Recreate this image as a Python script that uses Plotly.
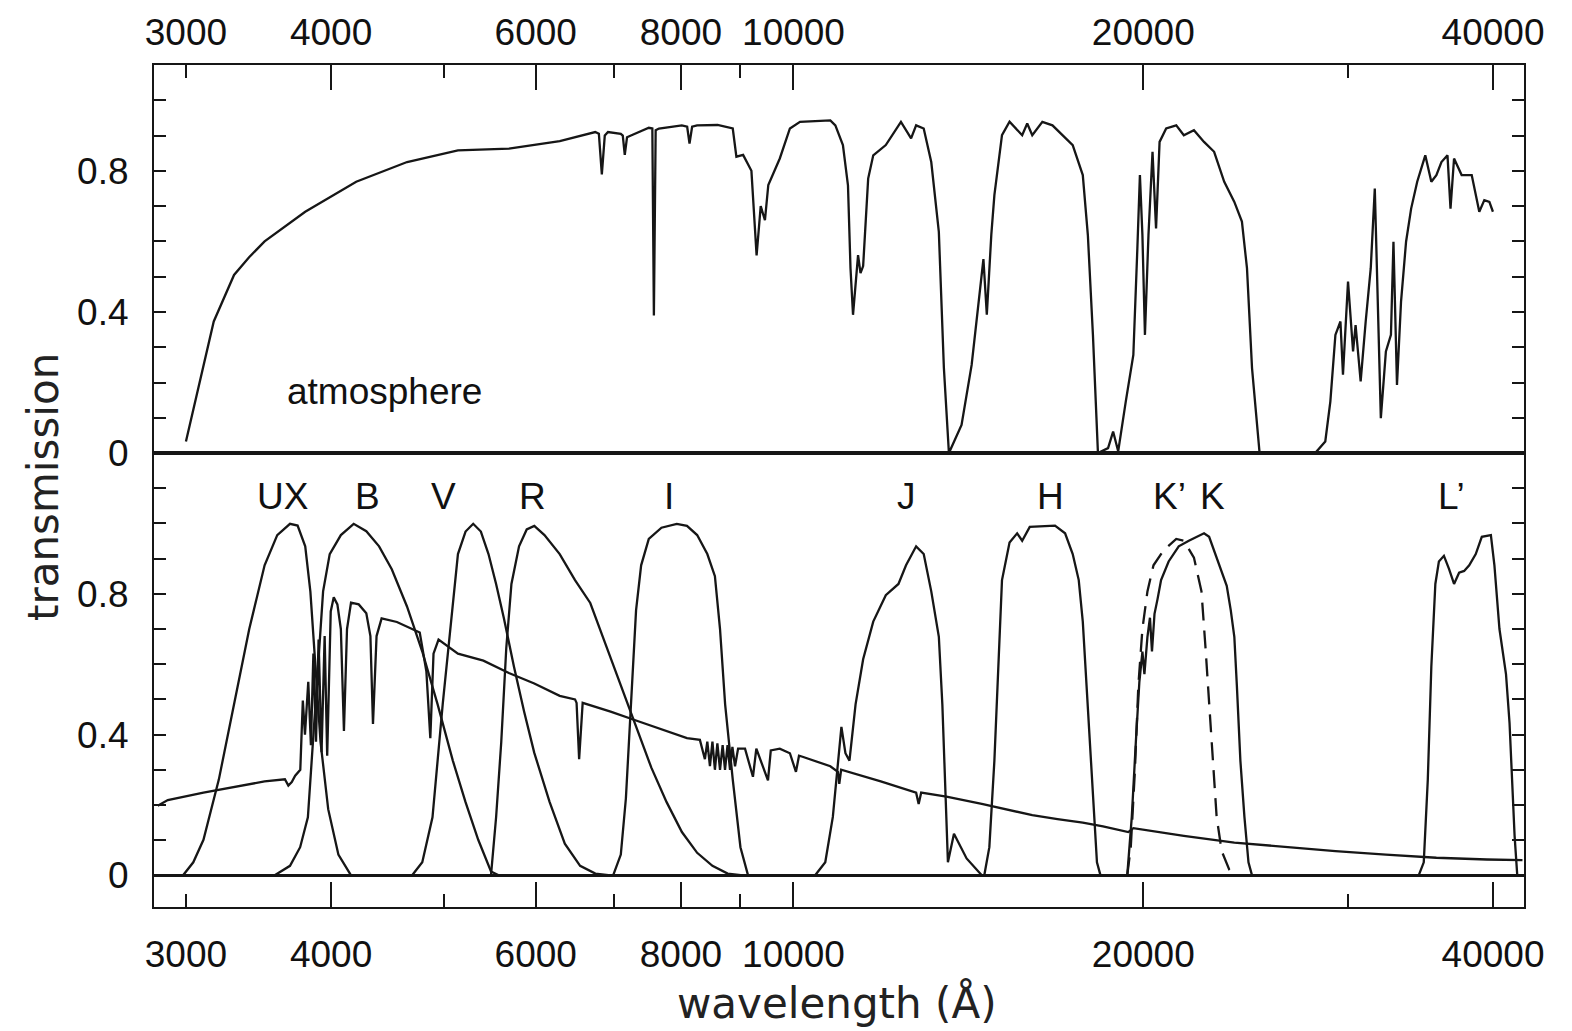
import math
import plotly.graph_objects as go

# ---------------- data (wavelength in Angstrom, transmission) ----------------
atm_wl = [3000, 3170, 3300, 3400, 3506, 3800, 4204, 4650, 5143, 5690, 6293, 6751, 6800, 6840, 6880,
          6924, 7102, 7130, 7158, 7190, 7246, 7508, 7560, 7583, 7610, 7660, 8015, 8100, 8138,
          8180, 8261, 8603, 8866, 8930, 9050, 9200, 9295, 9371, 9450, 9513, 9732, 9929, 10130,
          10757, 10865, 11029, 11140, 11196, 11252, 11309, 11365, 11420, 11480, 11595, 11712,
          12007, 12373, 12624, 12751, 12944, 13139, 13338, 13472, 13607, 13744, 13952, 14234,
          14522, 14570, 14668, 14800, 14890, 15116, 15344, 15733, 15891, 16051, 16375, 16706,
          17390, 17741, 17920, 18101, 18282, 18652, 18840, 19030, 19318, 19610, 19767, 19867,
          19966, 20066, 20207, 20370, 20513, 20657, 20928, 21351, 21674, 22112, 22559, 23015,
          23481, 23955, 24318, 24563, 24810, 25185, 28117, 28686, 28975, 29267, 29561, 29710,
          30009, 30310, 30462, 30769, 31078, 31391, 31643, 31865, 32025, 32347, 32672, 32836,
          33066, 33332, 33667, 34007, 34418, 34973, 35395, 35751, 36111, 36547, 36766, 37025,
          37585, 38344, 38729, 38923, 39314, 39711, 39990]
atm_t = [0.033, 0.373, 0.505, 0.555, 0.600, 0.684, 0.769, 0.825, 0.858, 0.863, 0.884, 0.910, 0.905, 0.790, 0.900,
         0.910, 0.905, 0.900, 0.845, 0.895, 0.900, 0.922, 0.920, 0.390, 0.915, 0.920, 0.929, 0.925, 0.877,
         0.925, 0.929, 0.930, 0.920, 0.840, 0.845, 0.800, 0.560, 0.700, 0.660, 0.760, 0.835, 0.920, 0.939,
         0.943, 0.929, 0.873, 0.759, 0.524, 0.392, 0.467, 0.561, 0.510, 0.530, 0.778, 0.844,
         0.873, 0.939, 0.892, 0.929, 0.920, 0.825, 0.627, 0.241, 0.000, 0.033, 0.080, 0.250,
         0.500, 0.550, 0.392, 0.620, 0.731, 0.901, 0.939, 0.901, 0.934, 0.901, 0.939, 0.929,
         0.873, 0.788, 0.618, 0.335, 0.000, 0.014, 0.061, 0.005, 0.146, 0.278, 0.580, 0.788,
         0.618, 0.335, 0.618, 0.854, 0.637, 0.882, 0.920, 0.929, 0.901, 0.915, 0.882, 0.854,
         0.769, 0.712, 0.656, 0.524, 0.241, 0.000, 0.000, 0.033, 0.146, 0.335, 0.373, 0.222,
         0.486, 0.288, 0.363, 0.203, 0.373, 0.524, 0.750, 0.335, 0.099, 0.288, 0.335, 0.599,
         0.193, 0.429, 0.599, 0.693, 0.769, 0.844, 0.769, 0.788, 0.825, 0.844, 0.693, 0.835,
         0.788, 0.788, 0.722, 0.684, 0.717, 0.712, 0.684]

ux_wl = [2939, 2983, 3044, 3106, 3202, 3300, 3401, 3506, 3595, 3687, 3743, 3800, 3839, 3878, 3917, 3977, 4058, 4161]
ux_t = [0.0, 0.0, 0.037, 0.101, 0.272, 0.486, 0.700, 0.881, 0.967, 0.999, 0.994, 0.935, 0.806, 0.593, 0.379, 0.188, 0.059, 0.0]

b_wl = [3577, 3687, 3762, 3820, 3878, 3937, 3989, 4078, 4183, 4289, 4399, 4511, 4649, 4792, 4940, 5091, 5221, 5354, 5491, 5575]
b_t = [0.0, 0.027, 0.080, 0.165, 0.486, 0.807, 0.913, 0.967, 0.999, 0.978, 0.935, 0.870, 0.764, 0.636, 0.486, 0.326, 0.208, 0.101, 0.011, 0.0]

v_wl = [4697, 4792, 4890, 4940, 4990, 5066, 5143, 5221, 5301, 5382, 5464, 5547, 5632, 5747, 5864, 5983, 6167, 6356, 6552, 6753, 6960]
v_t = [0.0, 0.037, 0.165, 0.326, 0.486, 0.700, 0.913, 0.977, 0.999, 0.977, 0.913, 0.828, 0.732, 0.593, 0.465, 0.348, 0.209, 0.090, 0.027, 0.005, 0.0]

r_wl = [5491, 5547, 5604, 5660, 5718, 5805, 5894, 5983, 6105, 6292, 6486, 6685, 6890, 7102, 7320, 7545, 7777, 8016, 8262, 8516, 8777, 9047]
r_t = [0.0, 0.165, 0.379, 0.646, 0.828, 0.935, 0.983, 0.993, 0.967, 0.913, 0.839, 0.774, 0.657, 0.540, 0.423, 0.306, 0.208, 0.123, 0.064, 0.027, 0.005, 0.0]

i_wl = [6995, 7102, 7174, 7247, 7320, 7394, 7507, 7698, 7935, 8097, 8262, 8430, 8558, 8645, 8733, 8866, 9002, 9139]
i_t = [0.0, 0.059, 0.219, 0.486, 0.753, 0.881, 0.956, 0.988, 0.999, 0.993, 0.967, 0.913, 0.850, 0.700, 0.486, 0.272, 0.080, 0.0]

j_wl = [10439, 10650, 10811, 10919, 10996, 11084, 11173, 11309, 11480, 11712, 12007, 12312, 12498, 12751, 12944,
        13139, 13338, 13431, 13499, 13580, 13744, 14092, 14522]
j_t = [0.0, 0.037, 0.166, 0.326, 0.422, 0.347, 0.326, 0.486, 0.614, 0.721, 0.796, 0.828, 0.881, 0.935, 0.913,
       0.807, 0.678, 0.486, 0.272, 0.037, 0.118, 0.048, 0.0]

h_wl = [14595, 14742, 14890, 15010, 15116, 15344, 15577, 15733, 15971, 16790, 17129, 17390, 17599, 17741, 17920, 18101, 18246, 18375]
h_t = [0.0, 0.080, 0.326, 0.593, 0.839, 0.946, 0.972, 0.951, 0.990, 0.994, 0.972, 0.913, 0.839, 0.721, 0.486, 0.219, 0.037, 0.0]

kp_wl = [19375, 19511, 19668, 19806, 19966, 20166, 20409, 20823, 21351, 21674, 22112, 22445, 22626, 22788, 22945, 23130, 23362, 23716, 23955]
kp_t = [0.0, 0.080, 0.294, 0.540, 0.700, 0.807, 0.881, 0.924, 0.956, 0.951, 0.903, 0.807, 0.646, 0.486, 0.326, 0.166, 0.069, 0.016, 0.0]

k_wl = [19375, 19550, 19708, 19846, 19966, 20045, 20166, 20267, 20348, 20450, 20573, 20718, 21031, 21456, 21890,
        22222, 22559, 22788, 23060, 23362, 23597, 23787, 23955, 24075, 24244, 24439, 24636, 24810]
k_t = [0.0, 0.166, 0.379, 0.550, 0.636, 0.572, 0.678, 0.732, 0.636, 0.743, 0.785, 0.839, 0.892, 0.935, 0.951,
       0.962, 0.972, 0.962, 0.913, 0.860, 0.823, 0.753, 0.678, 0.540, 0.326, 0.166, 0.037, 0.0]

lp_wl = [34521, 34868, 35148, 35395, 35678, 35929, 36290, 36656, 37025, 37397, 37773, 38153, 38652, 39118, 39828,
         40109, 40511, 41040, 41329, 41536, 41745, 41966]
lp_t = [0.0, 0.037, 0.272, 0.593, 0.828, 0.892, 0.908, 0.871, 0.828, 0.860, 0.865, 0.881, 0.913, 0.962, 0.967,
        0.881, 0.700, 0.572, 0.433, 0.272, 0.112, 0.0]

star_wl = [2837, 2894, 3106, 3300, 3506, 3650, 3675, 3700, 3725, 3763, 3782, 3798, 3823, 3843, 3862, 3882, 3902,
           3925, 3949, 3969, 3997, 4021, 4050, 4078, 4103, 4128, 4161, 4225, 4289, 4324, 4346, 4377, 4421, 4557,
           4697, 4768, 4831, 4869, 4900, 4949, 5143, 5409, 5689, 5983, 6292, 6486, 6506, 6539, 6585, 6960, 7320,
           7698, 8097, 8307, 8390, 8430, 8474, 8516, 8558, 8600, 8645, 8690, 8731, 8775, 8818, 8860, 8906, 8960,
           9084, 9228, 9290, 9507, 9560, 9732, 9929, 10049, 10110, 10181, 10757, 10919, 10950, 10990, 11309,
           11888, 12751, 12815, 12879, 13540, 14522, 15268, 15733, 16051, 16874, 17741, 18466, 19414, 19610,
           21674, 23955, 26476, 29267, 32347, 35751, 39512, 42400]
star_t = [0.198, 0.214, 0.235, 0.251, 0.267, 0.273, 0.255, 0.265, 0.283, 0.300, 0.497, 0.400, 0.550, 0.370, 0.630, 0.380, 0.670,
          0.350, 0.680, 0.340, 0.750, 0.790, 0.770, 0.700, 0.410, 0.700, 0.775, 0.770, 0.745, 0.680, 0.430, 0.680, 0.730, 0.720,
          0.700, 0.690, 0.580, 0.390, 0.630, 0.670, 0.630, 0.610, 0.575, 0.545, 0.510, 0.500, 0.490, 0.330, 0.490, 0.465, 0.440,
          0.415, 0.390, 0.385, 0.330, 0.380, 0.310, 0.380, 0.300, 0.375, 0.300, 0.370, 0.300, 0.370, 0.300, 0.365, 0.310, 0.360,
          0.360, 0.280, 0.360, 0.270, 0.355, 0.360, 0.347, 0.294, 0.340, 0.337, 0.310, 0.294, 0.260, 0.300, 0.288,
          0.267, 0.235, 0.203, 0.235, 0.224, 0.203, 0.187, 0.176, 0.171, 0.160, 0.150, 0.139, 0.123, 0.134,
          0.112, 0.093, 0.080, 0.069, 0.059, 0.050, 0.045, 0.043]

band_names = ["UX", "B", "V", "R", "I", "J", "H", "K\u2019", "K", "L\u2019"]
band_label_wl = [3636, 4303, 5002, 5967, 7813, 12521, 16656, 21086, 22950, 36864]

major_ticks = [4000, 6000, 8000, 10000, 20000, 40000]
minor_ticks = [3000, 5000, 7000, 9000, 30000]
label_ticks = [3000, 4000, 6000, 8000, 10000, 20000, 40000]
label_text = ["3000", "4000", "6000", "8000", "10000", "20000", "40000"]

y_ticks_top = [round(0.1 * i, 1) for i in range(0, 11)]
y_ticks_bot = [round(0.1 * i, 1) for i in range(0, 12)]

# ---------------- figure ----------------
INK = "#161616"
TICKFONT = dict(family="Liberation Sans, Arial, sans-serif", size=37, color="#111")
XR = [math.log10(2816), math.log10(42530)]
SPLIT = 455 / 844

fig = go.Figure()


def line(wl, t, xa, ya, dash="solid"):
    fig.add_trace(go.Scatter(x=wl, y=t, mode="lines", xaxis=xa, yaxis=ya,
                             line=dict(color=INK, width=2.3, dash=dash),
                             showlegend=False, hoverinfo="skip"))


line(atm_wl, atm_t, "x", "y")
line(star_wl, star_t, "x2", "y2")
for wl, t in [(ux_wl, ux_t), (b_wl, b_t), (v_wl, v_t), (r_wl, r_t), (i_wl, i_t),
              (j_wl, j_t), (h_wl, h_t), (k_wl, k_t), (lp_wl, lp_t)]:
    line(wl, t, "x2", "y2")
line(kp_wl, kp_t, "x2", "y2", dash="18px,10px")

# invisible carriers so the label-only overlay axes get drawn
for xa, ya in [("x3", "y"), ("x4", "y2")]:
    fig.add_trace(go.Scatter(x=atm_wl, y=atm_t, mode="lines", xaxis=xa, yaxis=ya,
                             opacity=0, line=dict(width=0.1), showlegend=False, hoverinfo="skip"))

tick_axis = dict(type="log", range=XR, tickmode="array", tickvals=major_ticks,
                 ticks="inside", ticklen=25, tickwidth=2, tickcolor=INK,
                 showticklabels=False, showgrid=False, zeroline=False,
                 showline=True, linecolor=INK, linewidth=2.2, mirror=True,
                 minor=dict(tickmode="array", tickvals=minor_ticks, ticks="inside",
                            ticklen=13, tickwidth=2, tickcolor=INK, showgrid=False))
label_axis = dict(type="log", range=XR, tickmode="array", tickvals=label_ticks,
                  ticktext=label_text, ticks="", showline=False, showgrid=False,
                  zeroline=False, tickfont=TICKFONT)

y_common = dict(tickmode="array", ticks="inside", ticklen=12, tickwidth=2, tickcolor=INK,
                showgrid=False, showline=True, linecolor=INK, linewidth=2.2, mirror="ticks",
                tickfont=TICKFONT, ticklabelstandoff=16)

fig.update_layout(
    width=1572, height=1031,
    margin=dict(l=154, r=48, t=63, b=124),
    paper_bgcolor="white", plot_bgcolor="white",
    xaxis=dict(anchor="y", side="top", **tick_axis),
    xaxis2=dict(anchor="y2", side="bottom", matches="x", **tick_axis),
    xaxis3=dict(anchor="y", side="top", overlaying="x", ticklabelstandoff=12, **label_axis),
    xaxis4=dict(anchor="y2", side="bottom", overlaying="x2", ticklabelstandoff=22, **label_axis),
    yaxis=dict(domain=[SPLIT, 1], anchor="x", range=[0, 1.1], tickvals=y_ticks_top,
               ticktext=["0", "", "", "", "0.4", "", "", "", "0.8", "", ""],
               zeroline=False, **y_common),
    yaxis2=dict(domain=[0, SPLIT], anchor="x2", range=[-0.09, 1.2], tickvals=y_ticks_bot,
                ticktext=["0", "", "", "", "0.4", "", "", "", "0.8", "", "", ""],
                zeroline=True, zerolinecolor=INK, zerolinewidth=2.5, **y_common),
)

for name, wl in zip(band_names, band_label_wl):
    fig.add_annotation(x=math.log10(wl), y=1.077, xref="x2", yref="y2", text=name,
                       showarrow=False, font=TICKFONT, xanchor="center", yanchor="middle")

fig.add_annotation(x=math.log10(4449), y=0.175, xref="x", yref="y", text="atmosphere",
                   showarrow=False, font=TICKFONT, xanchor="center", yanchor="middle")

TITLEFONT = dict(family="DejaVu Sans, sans-serif", size=42, color="#222")
fig.add_annotation(x=-0.081, y=0.4988, xref="paper", yref="paper", text="transmission",
                   textangle=-90, showarrow=False, font=TITLEFONT, xanchor="center", yanchor="middle")
fig.add_annotation(x=0.4985, y=-0.1145, xref="paper", yref="paper", text="wavelength (Å)",
                   showarrow=False, font=TITLEFONT, xanchor="center", yanchor="middle")

fig.write_html("out.html")
